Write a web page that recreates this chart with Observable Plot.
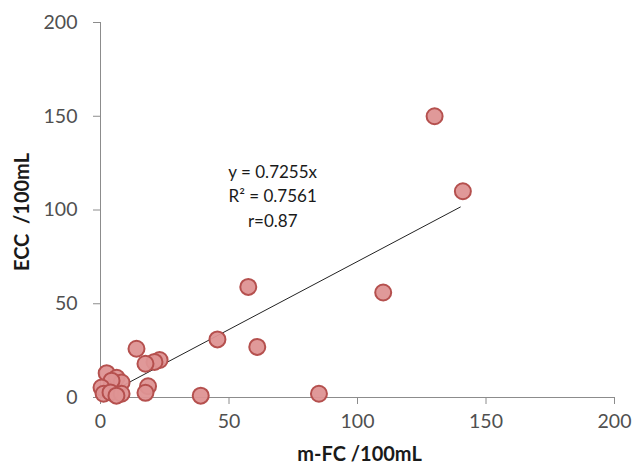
<!DOCTYPE html>
<html>
<head>
<meta charset="utf-8">
<script src="https://cdn.jsdelivr.net/npm/d3@7"></script>
<script src="https://cdn.jsdelivr.net/npm/@observablehq/plot@0.6"></script>
<style>
  html, body { margin: 0; padding: 0; background: #fff; }
  #chart svg { display: block; }
</style>
</head>
<body>
<div id="chart"></div>
<script>
// m-FC /100mL values
const mfc = [130, 141, 110, 57.5, 61, 45.5, 85, 39, 23, 21, 14, 17.5, 18.5, 17.5,
             2.4, 6.3, 8.2, 4.3, 0.4, 1.2, 3.9, 8.2, 6.2];
// ECC /100mL values
const ecc = [150, 110, 56, 59, 27, 31, 2, 1, 20, 19, 26, 18, 6, 2.5,
             13, 10.5, 8, 9, 5.3, 2, 2.7, 2, 1];
const slope = 0.7255;
const trendX = [0.5, 140];
const xTicks = [0, 50, 100, 150, 200];
const yTicks = [0, 50, 100, 150, 200];
const eqLines = ["y = 0.7255x", "R² = 0.7561", "r=0.87"];
const eqY = [120, 107, 94];

const points = mfc.map((x, i) => ({x, y: ecc[i]}));
const trend = trendX.map(x => ({x, y: slope * x}));

const axisColor = "#8c8c8c";
const font = "Lato, 'Open Sans', sans-serif";

const chart = Plot.plot({
  width: 634,
  height: 468,
  marginLeft: 100,
  marginRight: 20,
  marginTop: 22,
  marginBottom: 71,
  style: {fontFamily: font, background: "#fff"},
  x: {domain: [0, 200]},
  y: {domain: [0, 200]},
  marks: [
    Plot.ruleX([0], {stroke: axisColor, strokeWidth: 1}),
    Plot.ruleY([0], {stroke: axisColor, strokeWidth: 1}),
    Plot.axisY(yTicks, {tickSize: 7, tickPadding: 16, stroke: axisColor, fontSize: 19.5, fill: "#505050", label: null}),
    Plot.axisX(xTicks, {tickSize: 7, tickPadding: 10, stroke: axisColor, fontSize: 19.5, fill: "#505050", label: null}),
    Plot.line(trend, {x: "x", y: "y", stroke: "#222", strokeWidth: 1}),
    Plot.dot(points, {x: "x", y: "y", r: 8, fill: "#DE9493", fillOpacity: 0.95, stroke: "#B5504E", strokeWidth: 2}),
    Plot.text(eqLines, {
      x: () => 67, y: (d, i) => eqY[i], text: d => d,
      fontSize: 17, fill: "#1a1a1a", textAnchor: "middle"
    }),
    Plot.text(["ECC  /100mL"], {frameAnchor: "left", textAnchor: "middle", dx: -78, dy: 2, rotate: -90, fontSize: 20, fontWeight: "bold", fill: "#1a1a1a"}),
    Plot.text(["m-FC /100mL"], {frameAnchor: "bottom", textAnchor: "middle", dx: 2, dy: 63, fontSize: 20, fontWeight: "bold", fill: "#1a1a1a"})
  ]
});
document.getElementById("chart").appendChild(chart);
</script>
</body>
</html>
